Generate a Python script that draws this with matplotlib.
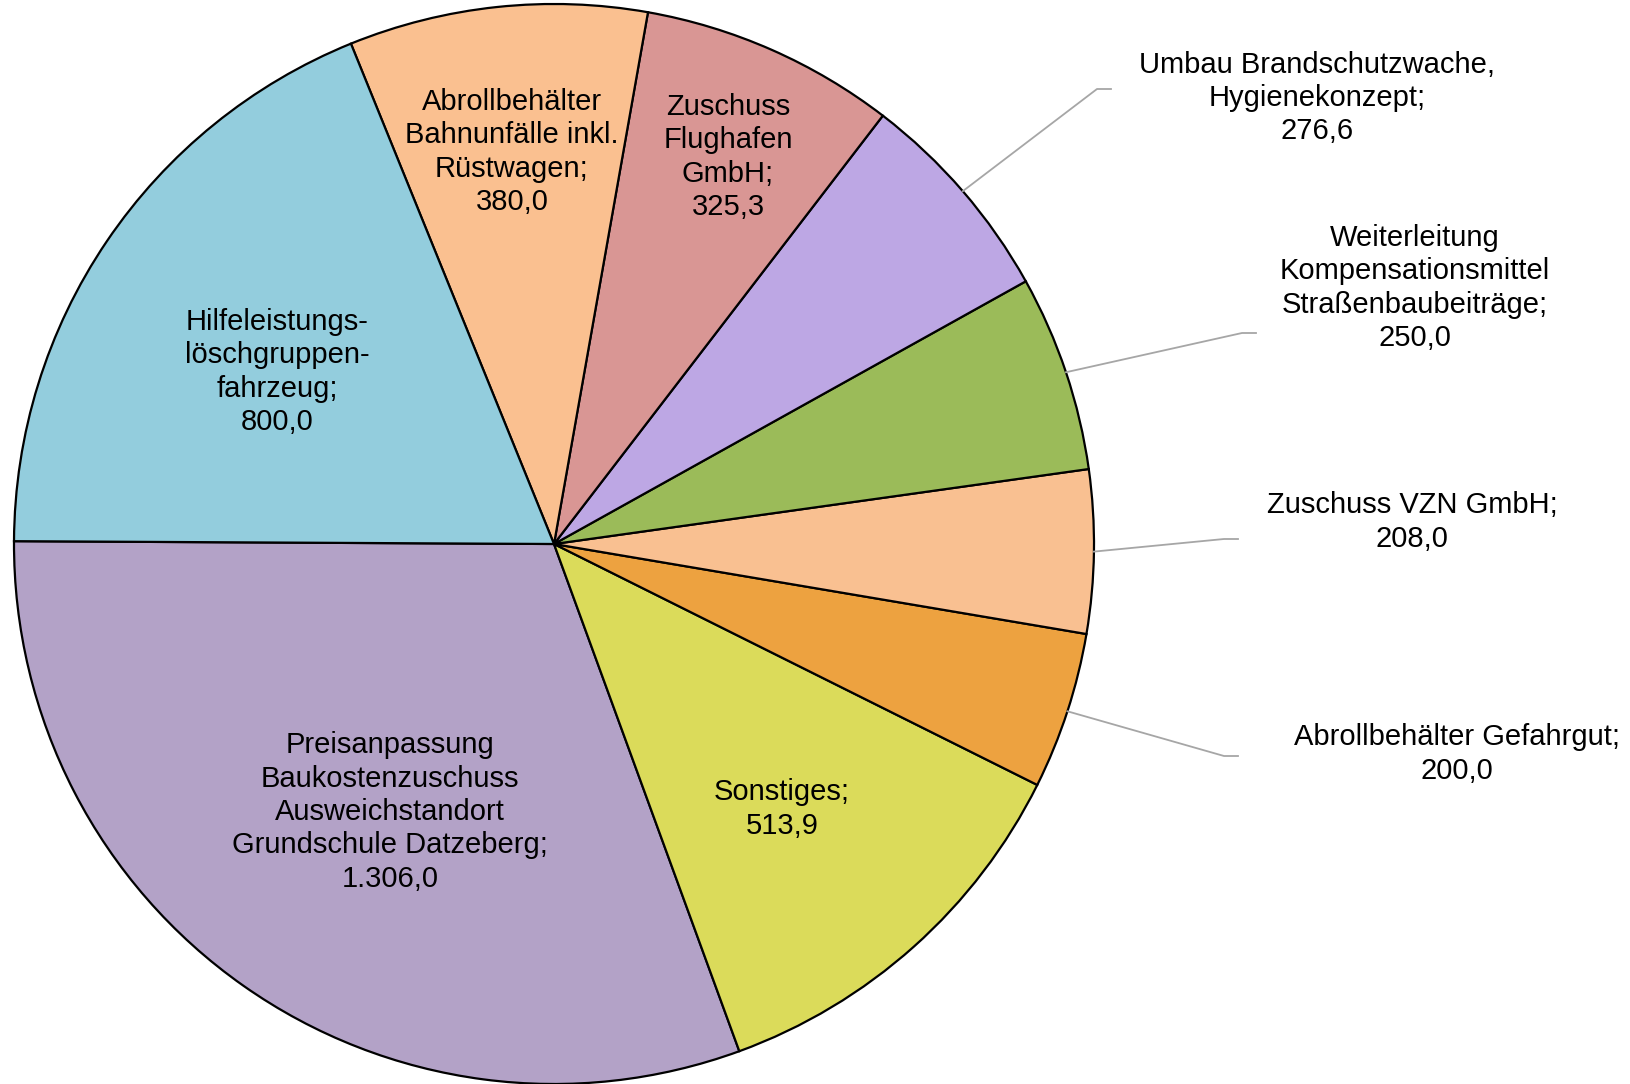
import numpy as np
import matplotlib.pyplot as plt

plt.rcParams['font.family'] = ['Liberation Sans', 'DejaVu Sans']

labels = [
    "Preisanpassung\nBaukostenzuschuss\nAusweichstandort\nGrundschule Datzeberg;\n1.306,0",
    "Sonstiges;\n513,9",
    "Abrollbehälter Gefahrgut;\n200,0",
    "Zuschuss VZN GmbH;\n208,0",
    "Weiterleitung\nKompensationsmittel\nStraßenbaubeiträge;\n250,0",
    "Umbau Brandschutzwache,\nHygienekonzept;\n276,6",
    "Zuschuss\nFlughafen\nGmbH;\n325,3",
    "Abrollbehälter\nBahnunfälle inkl.\nRüstwagen;\n380,0",
    "Hilfeleistungs-\nlöschgruppen-\nfahrzeug;\n800,0",
]
values = [1306.0, 513.9, 200.0, 208.0, 250.0, 276.6, 325.3, 380.0, 800.0]
colors = ["#B3A2C7", "#DBDB5A", "#EDA240", "#F9C091", "#9BBB59",
          "#BDA7E4", "#D99694", "#FAC090", "#93CDDD"]

W, H = 1631, 1084
cx, cy, r = 554, H - 544, 540

# label centres in pixel coords (y from top); None -> no leader line
label_pos = [(390, 812), (782, 809), (1457, 754), (1412, 522), (1415, 288),
             (1317, 98), (728, 157), (512, 152), (277, 372)]
leader_end = [None, None, (1238, 756), (1238, 539), (1256, 333), (1111, 89),
              None, None, None]

fig = plt.figure(figsize=(W / 100, H / 100), dpi=100)
ax = fig.add_axes([0, 0, 1, 1])

wedges, _ = ax.pie(values, colors=colors, startangle=179.7, counterclock=True,
                   center=(cx, cy), radius=r, frame=True,
                   wedgeprops=dict(edgecolor='black', linewidth=1.6))
ax.set_xlim(0, W)
ax.set_ylim(0, H)
ax.set_aspect('equal')
ax.axis('off')

for i, w in enumerate(wedges):
    x, y = label_pos[i]
    ax.text(x, H - y, labels[i], ha='center', va='center', fontsize=21,
            linespacing=1.24)
    if leader_end[i] is not None:
        mid = np.deg2rad((w.theta1 + w.theta2) / 2)
        x0 = cx + r * np.cos(mid)
        y0 = cy + r * np.sin(mid)
        ex, ey = leader_end[i]
        ax.plot([x0, ex - 14, ex], [y0, H - ey, H - ey], color='#A6A6A6',
                linewidth=1.3)

fig.savefig("out.png", dpi=100)
